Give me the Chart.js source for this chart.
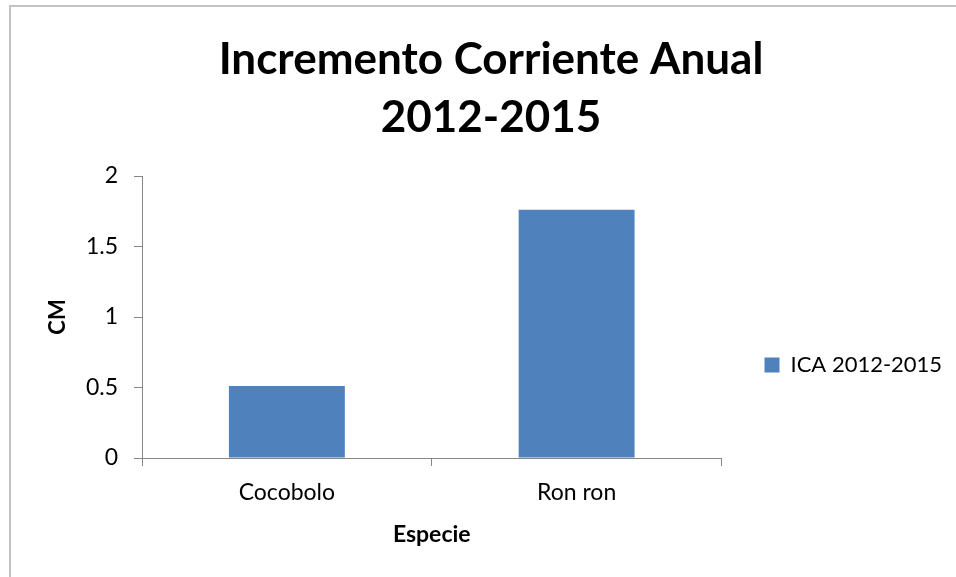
<!DOCTYPE html>
<html>
<head>
<meta charset="utf-8">
<title>Incremento Corriente Anual 2012-2015</title>
<script src="https://cdn.jsdelivr.net/npm/chart.js@4.4.1/dist/chart.umd.min.js"></script>
<style>
    html, body { margin: 0; padding: 0; background: #ffffff; }
    #wrap { width: 956px; height: 577px; position: relative; }
</style>
</head>
<body>
<div id="wrap"><canvas id="icaChart"></canvas></div>
<script>
// data
const especies = ['Cocobolo', 'Ron ron'];
const icaValues = [0.51, 1.76];
const serieLabel = 'ICA 2012-2015';
const titleLines = ['Incremento Corriente Anual', '2012-2015'];
const yTicks = [0, 0.5, 1, 1.5, 2];

const FONT = 'Lato, Carlito, Calibri, "Open Sans", sans-serif';

// light grey frame on the left and top, like the spreadsheet chart box
const frame = {
    id: 'frame',
    beforeDraw(chart) {
        const ctx = chart.ctx;
        ctx.save();
        ctx.strokeStyle = '#c3c3c3';
        ctx.lineWidth = 2;
        ctx.beginPath();
        ctx.moveTo(10, chart.height);
        ctx.lineTo(10, 6);
        ctx.lineTo(chart.width, 6);
        ctx.stroke();
        ctx.restore();
    }
};

const ctx = document.getElementById('icaChart').getContext('2d');
const icaChart = new Chart(ctx, {
    type: 'bar',
    data: {
        labels: especies,
        datasets: [{
            label: serieLabel,
            data: icaValues,
            backgroundColor: '#4f81bd',
            borderColor: '#4f81bd',
            borderWidth: 0,
            barPercentage: 0.4,
            categoryPercentage: 1.0
        }]
    },
    options: {
        responsive: true,
        maintainAspectRatio: false,
        animation: false,
        layout: {
            padding: { top: 0, right: 4, bottom: 0, left: 30 }
        },
        plugins: {
            title: {
                display: true,
                text: titleLines,
                color: '#000000',
                font: { family: FONT, size: 44, weight: 'bold', lineHeight: '58px' },
                padding: { top: 31, bottom: 29 }
            },
            legend: {
                display: true,
                position: 'right',
                align: 'start',
                fullSize: false,
                title: {
                    display: true,
                    text: ' ',
                    font: { size: 1, lineHeight: '1px' },
                    padding: { top: 134, bottom: 0 }
                },
                labels: {
                    boxWidth: 15,
                    boxHeight: 15,
                    padding: 43,
                    color: '#000000',
                    font: { family: FONT, size: 22 }
                }
            },
            tooltip: { enabled: false }
        },
        scales: {
            x: {
                grid: {
                    display: true,
                    drawOnChartArea: false,
                    drawTicks: true,
                    tickLength: 8,
                    color: '#868686'
                },
                border: { display: true, color: '#868686', width: 1 },
                ticks: {
                    color: '#000000',
                    padding: 13,
                    font: { family: FONT, size: 23 }
                },
                title: {
                    display: true,
                    text: 'Especie',
                    color: '#000000',
                    font: { family: FONT, size: 23, weight: 'bold' },
                    padding: { top: 0, bottom: 29 }
                },
                afterFit(scale) {
                    scale.height = 119;
                }
            },
            y: {
                min: yTicks[0],
                max: yTicks[yTicks.length - 1],
                afterBuildTicks(scale) {
                    scale.ticks = yTicks.map(v => ({ value: v }));
                },
                ticks: {
                    color: '#000000',
                    padding: 16,
                    font: { family: FONT, size: 23 },
                    callback: (value) => String(value)
                },
                grid: {
                    display: true,
                    drawOnChartArea: false,
                    drawTicks: true,
                    tickLength: 8,
                    color: '#868686'
                },
                border: { display: true, color: '#868686', width: 1 },
                title: {
                    display: true,
                    text: 'CM',
                    color: '#000000',
                    font: { family: FONT, size: 22, weight: 'bold' },
                    padding: { top: 15, bottom: 0 }
                },
                afterFit(scale) {
                    scale.width = 112;
                }
            }
        }
    },
    plugins: [frame]
});
</script>
</body>
</html>
